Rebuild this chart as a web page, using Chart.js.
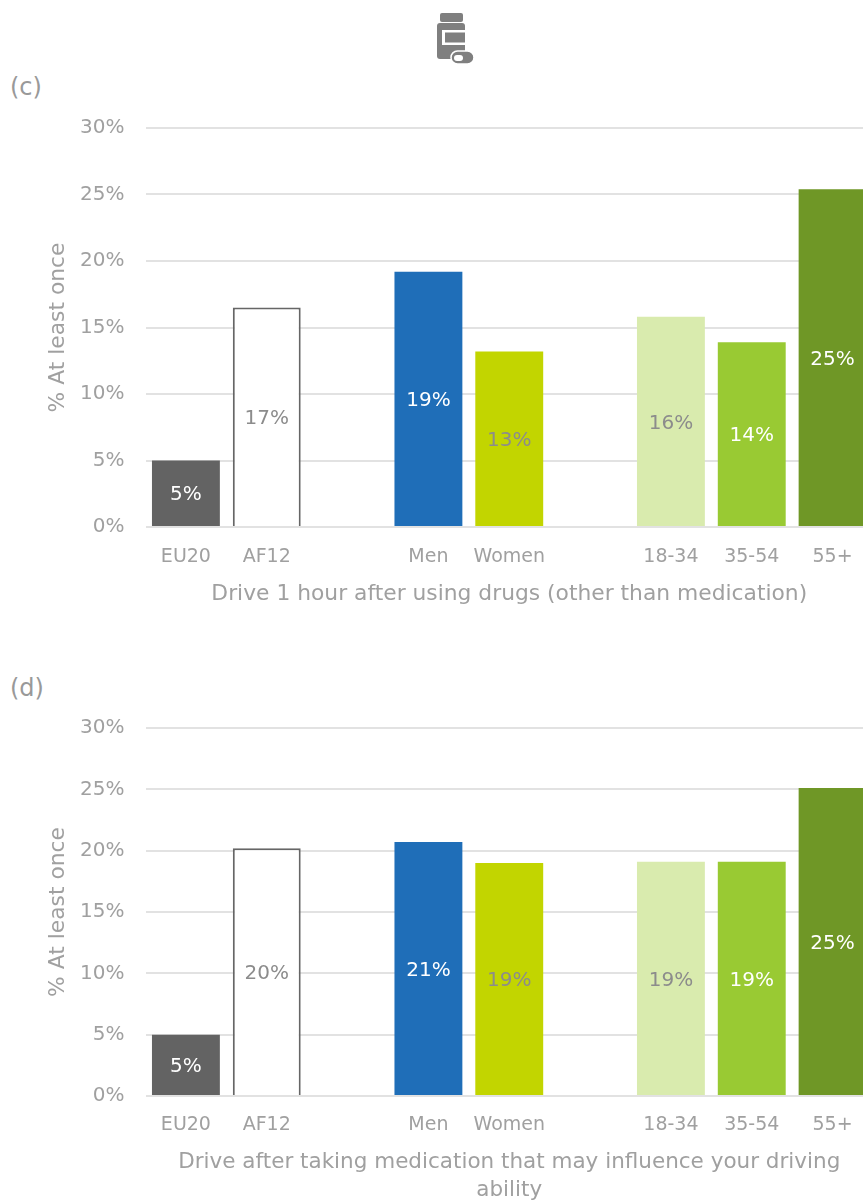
<!DOCTYPE html>
<html>
<head>
<meta charset="utf-8">
<script src="https://cdn.jsdelivr.net/npm/chart.js@4"></script>
<style>
html,body{margin:0;padding:0;background:#fff;overflow:hidden;width:863px;height:1203px}
body{position:relative;font-family:"DejaVu Sans",sans-serif;color:#999}
.caja{position:absolute;left:0;width:873px}
.letra{position:absolute;left:10px;font-size:24px}
svg{position:absolute;left:430px;top:8px}
</style>
</head>
<body>
<svg width="50" height="60" viewBox="0 0 50 60">
  <rect x="10" y="5" width="23" height="9" rx="2" fill="#7f7f7f"/>
  <rect x="7" y="15" width="28" height="36" rx="3" fill="#7f7f7f"/>
  <rect x="12" y="22" width="23" height="15" fill="#fff"/>
  <rect x="15" y="24.500" width="20" height="10" fill="#7f7f7f"/>
  <rect x="21" y="43" width="23" height="13" rx="6.500" fill="#7f7f7f" stroke="#fff" stroke-width="1.500"/>
  <rect x="24" y="47" width="9" height="6" rx="3" fill="#fff"/>
</svg>
<div class="letra" style="top:73px">(c)</div>
<div class="letra" style="top:674px">(d)</div>
<div class="caja" style="top:95px;height:514px"><canvas id="grafica_c"></canvas></div>
<div class="caja" style="top:695px;height:509px"><canvas id="grafica_d"></canvas></div>
<script>
// Categorias (los huecos separan los grupos)
const categorias=["EU20","AF12","","Men","Women","","18-34","35-54","55+"];
const valores_c=[5,16.5,null,19.2,13.2,null,15.8,13.9,25.4];
const valores_d=[5,20.2,null,20.7,19,null,19.1,19.1,25.1];
const ticks_y=[0,5,10,15,20,25,30];
const titulo_c="Drive 1 hour after using drugs (other than medication)";
const titulo_d=["Drive after taking medication that may influence your driving","ability"];
const titulo_y="% At least once";

const colores=["#636363","#ffffff",null,"#1f6eb8","#c2d500",null,"#d9ebae","#99ca33","#6f9726"];
const bordes=[0,2,0,0,0,0,0,0,0];
const coloresEtiqueta=["#fff","#8c8c8c",null,"#fff","#8c8c8c",null,"#8c8c8c","#fff","#fff"];
const gris="#a0a0a0";
const fuente="DejaVu Sans";

// Escribe el porcentaje en el centro de cada barra
const etiquetas={
  id:"etiquetas",
  afterDatasetsDraw(chart){
    const ctx=chart.ctx;
    chart.getDatasetMeta(0).data.forEach((barra,i)=>{
      const v=chart.data.datasets[0].data[i];
      if(v==null) return;
      ctx.save();
      ctx.font='20px "DejaVu Sans"';
      ctx.fillStyle=coloresEtiqueta[i];
      ctx.textAlign="center";
      ctx.textBaseline="middle";
      ctx.fillText(Math.round(v)+"%",barra.x,(barra.y+barra.base)/2+2);
      ctx.restore();
    });
  }
};

function crearGrafica(id,valores,titulo,alturaX,arriba,tamTitulo,padTicks){
  new Chart(document.getElementById(id),{
    type:"bar",
    data:{labels:categorias,datasets:[{
      data:valores,
      backgroundColor:colores,
      borderColor:"#666666",
      borderWidth:bordes,
      barPercentage:0.84,
      categoryPercentage:1
    }]},
    options:{
      responsive:true,
      maintainAspectRatio:false,
      animation:false,
      layout:{padding:{top:arriba,left:0,right:0,bottom:0}},
      plugins:{legend:{display:false},tooltip:{enabled:false}},
      scales:{
        x:{
          grid:{display:false},
          border:{display:false},
          afterFit(s){s.height=alturaX},
          ticks:{autoSkip:false,maxRotation:0,color:gris,padding:padTicks,font:{family:fuente,size:19}},
          title:{display:true,text:titulo,color:gris,padding:{top:2,bottom:0},font:{family:fuente,size:tamTitulo,lineHeight:1.3}}
        },
        y:{
          min:0,max:30,
          afterFit(s){s.width=145.5},
          afterBuildTicks(s){s.ticks=ticks_y.map(v=>({value:v}))},
          grid:{color:"#e2e2e2",lineWidth:2,drawTicks:false},
          border:{display:false},
          ticks:{color:gris,padding:21,callback:v=>v+"%",font:{family:fuente,size:20}},
          title:{display:true,text:titulo_y,color:gris,padding:{top:45,bottom:0},font:{family:fuente,size:21.8}}
        }
      }
    },
    plugins:[etiquetas]
  });
}

crearGrafica("grafica_c",valores_c,titulo_c,82,22,21.8,11);
crearGrafica("grafica_d",valores_d,titulo_d,108,19,21.5,10);
</script>
</body>
</html>
